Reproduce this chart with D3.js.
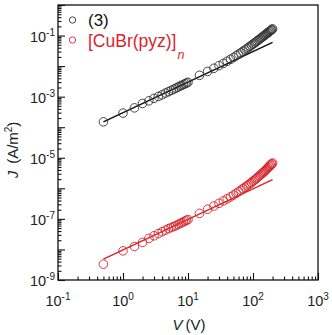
<!DOCTYPE html>
<html><head><meta charset="utf-8">
<script src="https://cdn.jsdelivr.net/npm/d3@7"></script>
<style>html,body{margin:0;padding:0;background:#fff;}svg{display:block;font-family:"Liberation Sans",Arial,Helvetica,sans-serif;}</style>
</head><body>
<svg id="c" width="332" height="335"></svg>
<script>
// ---- data ----
const voltage = [0.5,1,1.5,2,2.5,3,3.5,4,4.5,5,5.5,6,6.5,7,7.5,8,8.5,9,9.5,10,
  15,20,25,30,35,40,45,50,55,60,65,70,75,80,85,90,95,100,105,110,115,120,125,130,135,140,145,150,155,160,165,170,175,180,185,190,195,200];
const current3 = [1.5e-4,2.9e-4,4.3e-4,6.0e-4,7.3e-4,8.8e-4,1.02e-3,1.15e-3,1.32e-3,1.45e-3,1.6e-3,1.75e-3,1.9e-3,2.05e-3,2.2e-3,2.35e-3,2.5e-3,2.65e-3,2.8e-3,2.95e-3,
  5.0e-3,6.7e-3,8.5e-3,1.04e-2,1.23e-2,1.44e-2,1.67e-2,1.92e-2,2.18e-2,2.45e-2,2.73e-2,3.05e-2,3.38e-2,3.72e-2,4.08e-2,4.46e-2,4.85e-2,5.25e-2,5.67e-2,6.1e-2,6.56e-2,7.02e-2,7.5e-2,8.0e-2,8.5e-2,9.03e-2,9.57e-2,1.01e-1,1.07e-1,1.13e-1,1.19e-1,1.25e-1,1.31e-1,1.38e-1,1.44e-1,1.51e-1,1.58e-1,1.65e-1];
const currentCu = [3.3e-9,9.0e-9,1.25e-8,1.7e-8,2.3e-8,2.8e-8,3.3e-8,3.8e-8,4.3e-8,4.8e-8,5.2e-8,5.6e-8,6.0e-8,6.5e-8,7.0e-8,7.5e-8,8.0e-8,8.5e-8,9.0e-8,9.5e-8,
  1.51e-7,2.07e-7,2.64e-7,3.23e-7,3.86e-7,4.53e-7,5.23e-7,6.0e-7,6.86e-7,7.78e-7,8.74e-7,9.74e-7,1.08e-6,1.19e-6,1.31e-6,1.43e-6,1.56e-6,1.71e-6,1.85e-6,2.01e-6,2.17e-6,2.36e-6,2.54e-6,2.75e-6,2.95e-6,3.16e-6,3.38e-6,3.6e-6,3.87e-6,4.15e-6,4.44e-6,4.73e-6,5.04e-6,5.36e-6,5.68e-6,6.02e-6,6.36e-6,6.72e-6];
const fitVoltage = [0.5, 200];
const fit3 = [1.5e-4, 6.0e-2];
const fitCu = [4.8e-9, 1.92e-6];
const xTickExps = [-1,0,1,2,3];
const yTickExps = [-9,-7,-5,-3,-1];
const seriesNames = ["(3)", "[CuBr(pyz)]"];
const seriesColors = ["#333333", "#d7262b"];

// ---- layout ----
const L=58, R=318, T=5, B=280;
const svg = d3.select("#c");
const x = d3.scaleLog().domain([0.1,1000]).range([L,R]);
const y = d3.scaleLog().domain([1e-9,1]).range([B,T]);

// frame
svg.append("rect").attr("x",L).attr("y",T).attr("width",R-L).attr("height",B-T)
  .attr("fill","none").attr("stroke","#111").attr("stroke-width",1.3);

// minor/major ticks
const decadesX = d3.range(-1,3);
const minorX = [];
decadesX.forEach(e=>{for(let k=2;k<=9;k++) minorX.push(k*Math.pow(10,e));});
const majorX = d3.range(-1,4).map(e=>Math.pow(10,e));
const decadesY = d3.range(-9,0);
const minorY = [];
decadesY.forEach(e=>{for(let k=2;k<=9;k++) minorY.push(k*Math.pow(10,e));});
const majorY = d3.range(-9,1).map(e=>Math.pow(10,e));

function styleAxis(g){g.select(".domain").remove();g.selectAll("line").attr("stroke","#111").attr("stroke-width",1.1);}
svg.append("g").attr("transform",`translate(0,${B})`)
  .call(d3.axisBottom(x).tickValues(minorX).tickSize(-3.5).tickFormat("")).call(styleAxis);
svg.append("g").attr("transform",`translate(0,${B})`)
  .call(d3.axisBottom(x).tickValues(majorX).tickSize(-7).tickFormat("")).call(styleAxis);
svg.append("g").attr("transform",`translate(${L},0)`)
  .call(d3.axisLeft(y).tickValues(minorY).tickSize(-3.5).tickFormat("")).call(styleAxis);
svg.append("g").attr("transform",`translate(${L},0)`)
  .call(d3.axisLeft(y).tickValues(majorY).tickSize(-7).tickFormat("")).call(styleAxis);

// tick labels
function powLabel(sel, e){
  sel.append("tspan").text("10");
  sel.append("tspan").attr("font-size",10).attr("dy",-6).text(e<0?"-"+(-e):String(e));
}
xTickExps.forEach(e=>{
  const t = svg.append("text").attr("x",x(Math.pow(10,e))).attr("y",306)
    .attr("text-anchor","middle").attr("font-size",14.5).attr("fill","#222");
  powLabel(t,e);
});
yTickExps.forEach(e=>{
  const t = svg.append("text").attr("x",55).attr("y",y(Math.pow(10,e))+6)
    .attr("text-anchor","end").attr("font-size",14.5).attr("fill","#222");
  powLabel(t,e);
});

// axis titles
const xt = svg.append("text").attr("x",189).attr("y",330).attr("text-anchor","middle")
  .attr("font-size",15).attr("fill","#222");
xt.append("tspan").attr("font-style","italic").text("V");
xt.append("tspan").attr("dx",3).text("(V)");
const yt = svg.append("text").attr("transform","translate(18,150) rotate(-90)")
  .attr("text-anchor","middle").attr("font-size",15).attr("fill","#222");
yt.append("tspan").attr("font-style","italic").text("J");
yt.append("tspan").attr("dx",7).text("(A/m");
yt.append("tspan").attr("font-size",10).attr("dy",-6).text("2");
yt.append("tspan").attr("dy",6).text(")");

// fit lines
const line = d3.line().x(d=>x(d[0])).y(d=>y(d[1]));
[fit3, fitCu].forEach((f,i)=>{
  svg.append("path").datum(fitVoltage.map((v,j)=>[v,f[j]]))
    .attr("d",line).attr("fill","none").attr("stroke",i===0?"#111":seriesColors[1]).attr("stroke-width",1.5);
});

// data points
[current3, currentCu].forEach((arr,i)=>{
  svg.append("g").selectAll("circle").data(voltage.map((v,j)=>[v,arr[j]])).join("circle")
    .attr("cx",d=>x(d[0])).attr("cy",d=>y(d[1])).attr("r",4.3)
    .attr("fill","none").attr("stroke",seriesColors[i]).attr("stroke-width",0.9);
});

// legend
svg.append("circle").attr("cx",72.5).attr("cy",20).attr("r",3.2).attr("fill","none").attr("stroke",seriesColors[0]).attr("stroke-width",0.9);
svg.append("circle").attr("cx",72.5).attr("cy",40).attr("r",3.2).attr("fill","none").attr("stroke",seriesColors[1]).attr("stroke-width",0.9);
svg.append("text").attr("x",88).attr("y",26).attr("font-size",17).attr("fill","#111").text(seriesNames[0]);
const lg = svg.append("text").attr("x",88).attr("y",47).attr("font-size",17.5).attr("fill",seriesColors[1]);
lg.append("tspan").text(seriesNames[1]);
lg.append("tspan").attr("font-style","italic").attr("font-size",12.5).attr("dy",12).attr("dx",1).text("n");
</script>
</body></html>
